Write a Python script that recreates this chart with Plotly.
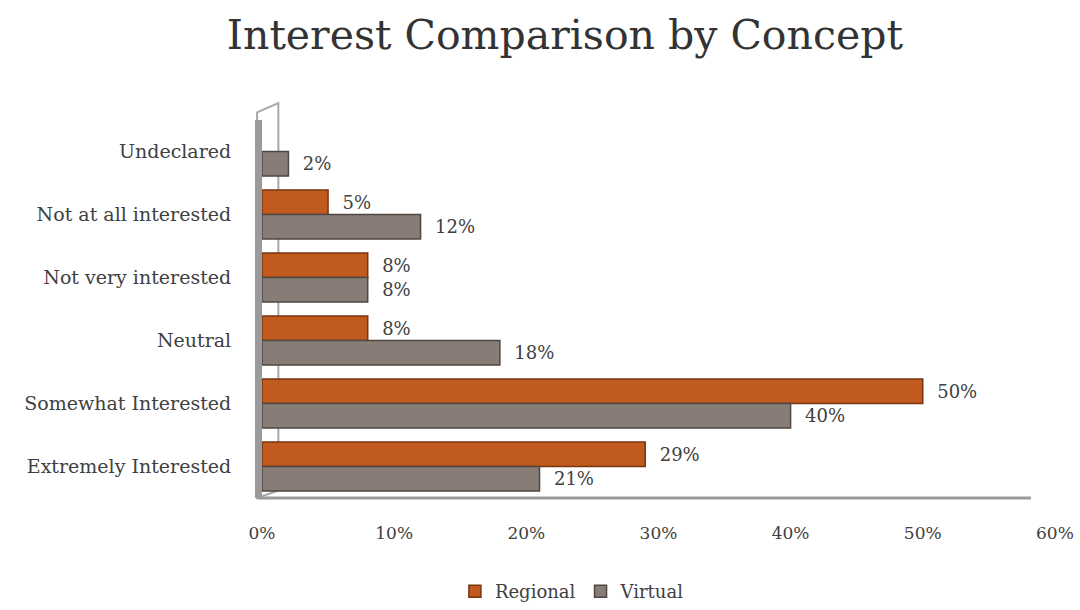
import plotly.graph_objects as go

# Survey answers, listed top to bottom as they appear on the chart
categories = [
    "Undeclared",
    "Not at all interested",
    "Not very interested",
    "Neutral",
    "Somewhat Interested",
    "Extremely Interested",
]
regional = [None, 5, 8, 8, 50, 29]
virtual = [2, 12, 8, 18, 40, 21]
x_ticks = [0, 10, 20, 30, 40, 50, 60]
x_tick_labels = ["0%", "10%", "20%", "30%", "40%", "50%", "60%"]

FONT = "DejaVu Serif"
TEXT = "#404040"
REGIONAL_COLOR = "#c05a1e"
VIRTUAL_COLOR = "#877c76"
PAD = "\u00a0\u00a0"


def labels(values):
    return [("" if v is None else f"{PAD}{v}%") for v in values]


fig = go.Figure()
fig.add_trace(go.Bar(
    name="Regional", y=categories, x=regional, orientation="h",
    marker=dict(color=REGIONAL_COLOR, line=dict(color="#7a3410", width=1.5)),
    text=labels(regional), textposition="outside", cliponaxis=False,
    textfont=dict(family=FONT, size=18, color=TEXT),
))
fig.add_trace(go.Bar(
    name="Virtual", y=categories, x=virtual, orientation="h",
    marker=dict(color=VIRTUAL_COLOR, line=dict(color="#4f4743", width=1.5)),
    text=labels(virtual), textposition="outside", cliponaxis=False,
    textfont=dict(family=FONT, size=18, color=TEXT),
))

# back wall panel on the left
fig.add_shape(
    type="path", xref="paper", yref="paper", layer="below",
    path="M -0.006,0.0 L -0.006,1.02 L 0.02,1.045 L 0.02,0.02 Z",
    fillcolor="#ffffff", line=dict(color="#a8a8a8", width=2),
)
# floor of the chart (stops short of the last tick label)
fig.add_shape(
    type="line", xref="paper", yref="paper",
    x0=-0.005, x1=0.94, y0=0, y1=0,
    line=dict(color="#9a9a9a", width=3),
)

fig.update_layout(
    width=1080, height=610,
    paper_bgcolor="white", plot_bgcolor="white",
    margin=dict(l=262, r=0, t=120, b=112, autoexpand=False),
    barmode="group", bargap=0.22, bargroupgap=0.0,
    title=dict(
        text="Interest Comparison by Concept",
        font=dict(family=FONT, size=41, color="#333333"),
        x=0.523, xanchor="center", y=0.943, yanchor="middle",
    ),
    legend=dict(
        orientation="h", xref="container", yref="container",
        x=0.53, xanchor="center", y=-0.01, yanchor="bottom",
        font=dict(family=FONT, size=18, color=TEXT),
        itemwidth=30, traceorder="normal",
    ),
    xaxis=dict(
        range=[0, 61.9], tickvals=x_ticks, ticktext=x_tick_labels,
        showgrid=False, zeroline=False, showline=False,
        ticks="outside", ticklen=20, tickcolor="rgba(0,0,0,0)",
        tickfont=dict(family=FONT, size=17, color=TEXT),
    ),
    yaxis=dict(
        autorange="reversed",
        showgrid=False, zeroline=False,
        showline=True, linecolor="#9a9a9a", linewidth=7,
        ticks="outside", ticklen=20, tickcolor="rgba(0,0,0,0)",
        tickfont=dict(family=FONT, size=19, color=TEXT),
    ),
)

fig.write_html("out.html")
